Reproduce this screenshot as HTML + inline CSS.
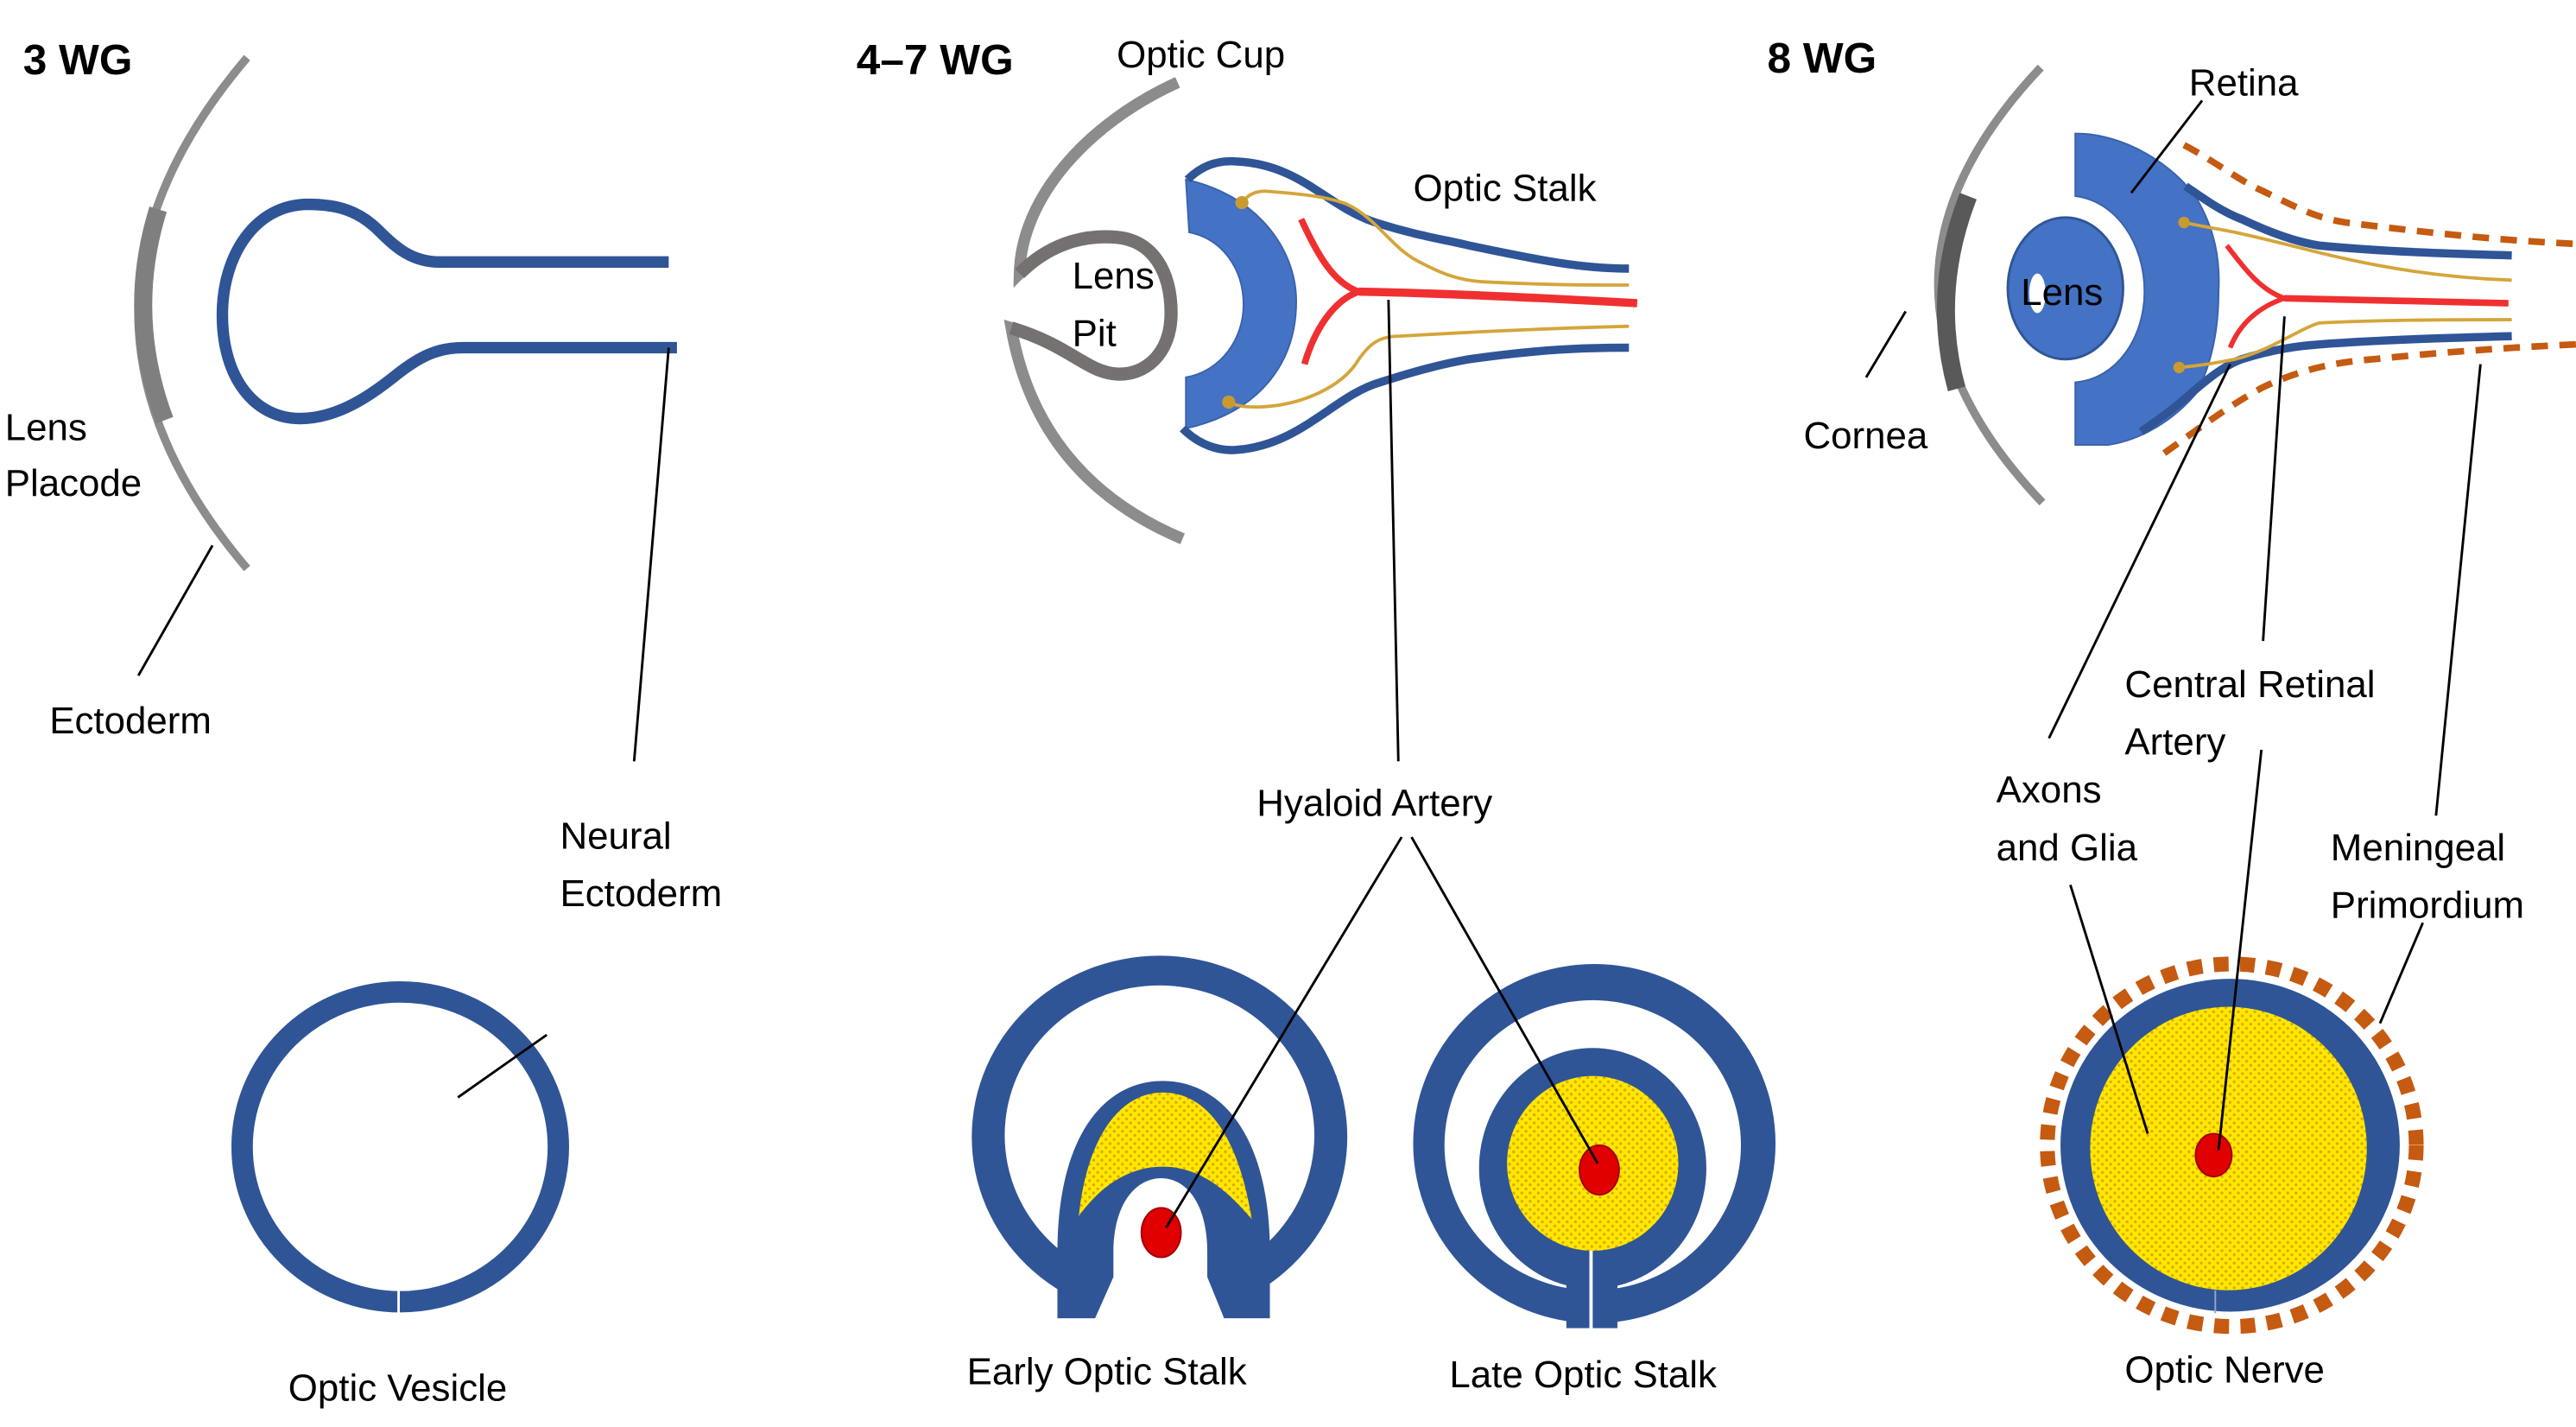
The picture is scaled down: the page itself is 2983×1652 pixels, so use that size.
<!DOCTYPE html>
<html><head><meta charset="utf-8"><style>
html,body{margin:0;padding:0;background:#fff;}
svg{display:block;}
text{font-family:"Liberation Sans",sans-serif;font-size:23px;fill:#000;}
.b{font-weight:bold;font-size:26px;}
</style></head><body>
<svg width="2983" height="1652" viewBox="0 0 1564 866" preserveAspectRatio="none" xmlns="http://www.w3.org/2000/svg">
<defs>
<pattern id="dots" width="5" height="5" patternUnits="userSpaceOnUse">
<rect width="5" height="5" fill="#FFE800"/>
<circle cx="1.5" cy="1.5" r="0.9" fill="#E0A800"/>
<circle cx="4" cy="4" r="0.9" fill="#E0A800"/>
</pattern>
</defs>

<!-- PANEL 1 -->
<text x="14" y="45" class="b">3 WG</text>
<path d="M150,35 Q18,190 150,345" fill="none" stroke="#8c8c8c" stroke-width="5"/>
<path d="M96,127 Q76,191 100,255" fill="none" stroke="#7f7f7f" stroke-width="11"/>
<path d="M406,159 L267,159 C250,159 240,150 230,140 C218,128 205,124 187,124 C155,124 135,155 135,191 C135,230 155,254 182,254 C205,254 225,240 240,228 C255,216 266,211 281,211 L411,211" fill="none" stroke="#2F5597" stroke-width="7"/>
<line x1="129" y1="331" x2="84" y2="410" stroke="#000" stroke-width="1.5"/>
<text x="3" y="267">Lens</text>
<text x="3" y="301">Placode</text>
<text x="30" y="445">Ectoderm</text>
<line x1="406" y1="211" x2="385" y2="462" stroke="#000" stroke-width="1.5"/>
<text x="340" y="515">Neural</text>
<text x="340" y="550">Ectoderm</text>
<ellipse cx="243" cy="696" rx="96" ry="94" fill="none" stroke="#2F5597" stroke-width="13"/>
<line x1="242" y1="783" x2="242" y2="797" stroke="#fff" stroke-width="1.5"/>
<line x1="332" y1="628" x2="278" y2="666" stroke="#000" stroke-width="1.5"/>
<text x="175" y="850">Optic Vesicle</text>

<!-- PANEL 2 -->
<text x="520" y="45" class="b">4–7 WG</text>
<text x="678" y="41">Optic Cup</text>
<path d="M715,50 C660,75 620,120 619,166 C635,150 655,142 678,144 C700,146 711,165 711,190 C711,215 695,228 678,227 C660,226 650,210 614,199 Q630,290 718,327" fill="none" stroke="#8c8c8c" stroke-width="7"/>
<path d="M619,166 C635,150 655,142 678,144 C700,146 711,165 711,190 C711,215 695,228 678,227 C660,226 650,210 614,199" fill="none" stroke="#767171" stroke-width="8"/>
<text x="651" y="175">Lens</text>
<text x="651" y="210">Pit</text>
<path d="M720,109 C762,118 787,150 787,183 C787,220 765,250 720,260 L720,229 C742,225 755,205 755,185 C755,163 742,145 722,141 Z" fill="#4472C4" stroke="#3a62ad" stroke-width="1"/>
<path d="M721,109 C730,100 740,97 751,98 C790,100 805,125 835,135 C860,143 875,145 892,149 C935,158 960,163 989,163" fill="none" stroke="#2F5597" stroke-width="5"/>
<path d="M718,260 C728,270 740,274 751,273 C790,270 810,240 838,232 C860,225 875,221 892,218 C935,212 960,211 989,211" fill="none" stroke="#2F5597" stroke-width="5"/>
<path d="M754,123 C758,118 762,116 768,116 C795,118 808,120 818,124 C835,132 845,150 860,158 C875,166 885,170 900,171 C940,173 965,173 989,173" fill="none" stroke="#D4A53A" stroke-width="2"/>
<path d="M746,244 C752,247 758,247 765,247 C790,246 815,235 825,218 C832,208 838,204 850,204 C900,201 950,199 989,198" fill="none" stroke="#D4A53A" stroke-width="2"/>
<circle cx="754" cy="123" r="4" fill="#C89A30"/>
<circle cx="746" cy="244" r="4" fill="#C89A30"/>
<path d="M825,177 C880,178 940,181 994,184" fill="none" stroke="#F03030" stroke-width="5"/>
<path d="M790,133 C800,155 810,172 825,177 C810,182 798,200 792,221" fill="none" stroke="#F03030" stroke-width="4"/>
<text x="858" y="122">Optic Stalk</text>
<line x1="843" y1="182" x2="849" y2="462" stroke="#000" stroke-width="1.5"/>
<text x="763" y="495">Hyaloid Artery</text>

<!-- Early optic stalk -->
<ellipse cx="704" cy="690" rx="114" ry="110" fill="#2F5597"/>
<ellipse cx="704" cy="689" rx="94" ry="91" fill="#fff"/>
<path d="M642,800 L642,760 C642,690 670,656 706,656 C742,656 771,690 771,760 L771,800 Z" fill="#2F5597"/>
<path d="M655,738 C660,690 680,663 706,663 C733,663 752,690 760,740 C745,722 728,708 706,708 C685,708 668,720 655,738 Z" fill="url(#dots)"/>
<path d="M664,802 L676,775 L676,760 C676,730 690,715 705,715 C720,715 733,730 733,760 L733,775 L744,802 Z" fill="#fff"/>
<ellipse cx="705" cy="748" rx="12" ry="15" fill="#E00000" stroke="#A00000" stroke-width="1"/>
<text x="587" y="840">Early Optic Stalk</text>

<!-- Late optic stalk -->
<ellipse cx="968" cy="694" rx="110" ry="109" fill="#2F5597"/>
<ellipse cx="967" cy="695" rx="90" ry="88" fill="#fff"/>
<rect x="951" y="740" width="31" height="66" fill="#2F5597"/>
<ellipse cx="967" cy="709" rx="69" ry="73" fill="#2F5597"/>
<ellipse cx="967" cy="706" rx="52" ry="53" fill="url(#dots)"/>
<line x1="966" y1="759" x2="966" y2="806" stroke="#fff" stroke-width="2"/>
<ellipse cx="971" cy="710" rx="12" ry="15" fill="#E00000" stroke="#A00000" stroke-width="1"/>
<text x="880" y="842">Late Optic Stalk</text>

<line x1="851" y1="508" x2="708" y2="745" stroke="#000" stroke-width="1.5"/>
<line x1="857" y1="508" x2="970" y2="706" stroke="#000" stroke-width="1.5"/>

<!-- PANEL 3 -->
<text x="1073" y="44" class="b">8 WG</text>
<path d="M1239,41 Q1114,173 1240,305" fill="none" stroke="#8c8c8c" stroke-width="5"/>
<path d="M1195,119 Q1172,178 1188,236" fill="none" stroke="#595959" stroke-width="11"/>
<line x1="1157" y1="189" x2="1133" y2="229" stroke="#000" stroke-width="1.5"/>
<text x="1095" y="272">Cornea</text>
<path d="M1326,88 C1345,98 1360,110 1374,116 C1395,126 1405,132 1424,135 C1480,142 1520,146 1564,148" fill="none" stroke="#C55A11" stroke-width="4" stroke-dasharray="10,7"/>
<path d="M1314,275 C1335,260 1355,245 1374,235 C1395,225 1415,220 1441,218 C1480,214 1520,211 1564,209" fill="none" stroke="#C55A11" stroke-width="4" stroke-dasharray="10,7"/>
<path d="M1260,81 C1290,81 1320,100 1334,121 C1345,140 1348,158 1347,177 C1347,200 1343,220 1334,238 C1320,255 1300,267 1280,270 L1260,270 L1260,232 C1285,230 1302,205 1302,177 C1302,148 1285,122 1260,119 Z" fill="#4472C4" stroke="#3a62ad" stroke-width="1"/>
<path d="M1327,113 C1340,122 1350,129 1361,133 C1380,142 1395,147 1408,149 C1450,153 1490,154 1525,155" fill="none" stroke="#2F5597" stroke-width="5"/>
<path d="M1300,262 C1310,255 1317,250 1323,245 C1340,230 1350,222 1361,218 C1380,212 1395,210 1408,209 C1450,206 1490,205 1525,204" fill="none" stroke="#2F5597" stroke-width="5"/>
<path d="M1326,135 C1335,137 1347,139 1357,141 C1385,147 1405,153 1424,157 C1460,165 1495,169 1525,170" fill="none" stroke="#D4A53A" stroke-width="2"/>
<path d="M1323,223 C1335,222 1347,220 1357,218 C1380,212 1395,200 1408,196 C1450,194 1490,194 1525,194" fill="none" stroke="#D4A53A" stroke-width="2"/>
<circle cx="1326" cy="135" r="3.5" fill="#C89A30"/>
<circle cx="1323" cy="223" r="3.5" fill="#C89A30"/>
<path d="M1387,181 C1430,182 1480,183 1523,184" fill="none" stroke="#F03030" stroke-width="4"/>
<path d="M1352,149 C1362,162 1372,176 1387,181 C1372,186 1360,196 1354,211" fill="none" stroke="#F03030" stroke-width="3"/>
<ellipse cx="1254" cy="175" rx="35" ry="43" fill="#4472C4" stroke="#2F5597" stroke-width="1.5"/>
<ellipse cx="1237" cy="178" rx="5" ry="12" fill="#fff"/>
<text x="1227" y="185">Lens</text>
<line x1="1337" y1="61" x2="1294" y2="117" stroke="#000" stroke-width="1.5"/>
<text x="1329" y="58">Retina</text>
<line x1="1387" y1="192" x2="1374" y2="389" stroke="#000" stroke-width="1.5"/>
<text x="1290" y="423">Central Retinal</text>
<text x="1290" y="458">Artery</text>
<line x1="1354" y1="221" x2="1244" y2="448" stroke="#000" stroke-width="1.5"/>
<text x="1212" y="487">Axons</text>
<text x="1212" y="522">and Glia</text>
<line x1="1506" y1="221" x2="1479" y2="495" stroke="#000" stroke-width="1.5"/>
<text x="1415" y="522">Meningeal</text>
<text x="1415" y="557">Primordium</text>
<ellipse cx="1355" cy="695" rx="112" ry="110" fill="none" stroke="#C55A11" stroke-width="9" stroke-dasharray="9,7"/>
<ellipse cx="1354" cy="695" rx="103" ry="101" fill="#2F5597"/>
<ellipse cx="1353" cy="697" rx="84" ry="86" fill="url(#dots)"/>
<line x1="1345" y1="783" x2="1345" y2="797" stroke="#8fa6d0" stroke-width="1"/>
<ellipse cx="1344" cy="701" rx="11" ry="13" fill="#E00000" stroke="#A00000" stroke-width="1"/>
<line x1="1471" y1="560" x2="1445" y2="621" stroke="#000" stroke-width="1.5"/>
<line x1="1257" y1="537" x2="1304" y2="688" stroke="#000" stroke-width="1.5"/>
<line x1="1373" y1="455" x2="1347" y2="698" stroke="#000" stroke-width="1.5"/>
<text x="1290" y="839">Optic Nerve</text>
</svg>
</body></html>
